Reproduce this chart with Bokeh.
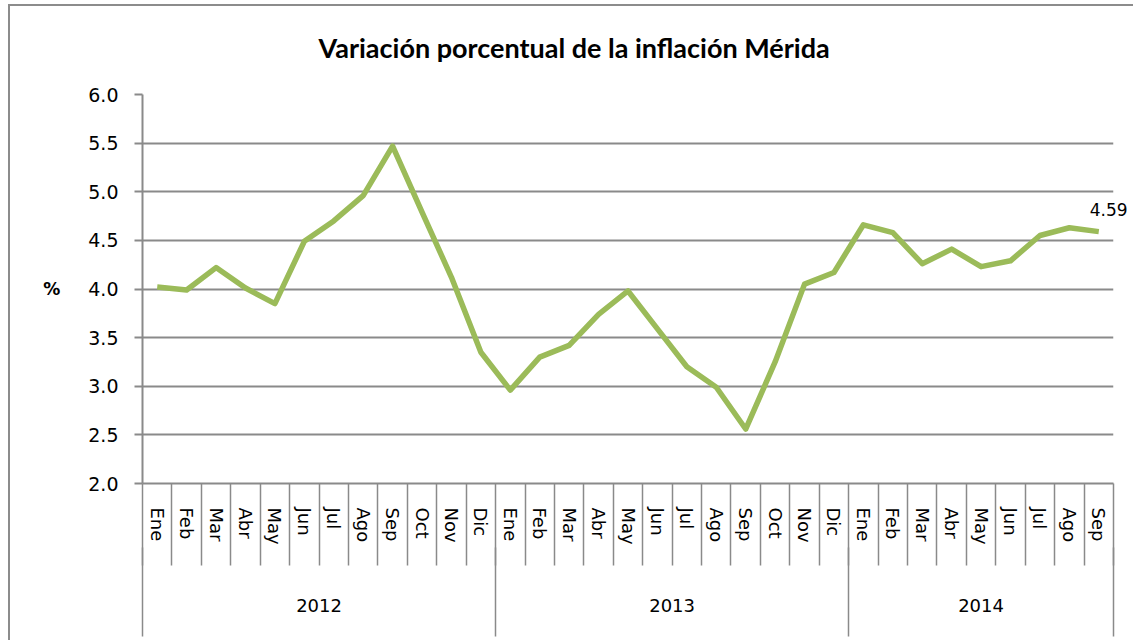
from bokeh.plotting import figure
from bokeh.models import LinearAxis, FixedTicker, Range1d, Label
from bokeh.embed import file_html
from bokeh.resources import INLINE

title = "Variación porcentual de la inflación Mérida"
years = ["2012", "2013", "2014"]
months_per_year = [
    ["Ene", "Feb", "Mar", "Abr", "May", "Jun", "Jul", "Ago", "Sep", "Oct", "Nov", "Dic"],
    ["Ene", "Feb", "Mar", "Abr", "May", "Jun", "Jul", "Ago", "Sep", "Oct", "Nov", "Dic"],
    ["Ene", "Feb", "Mar", "Abr", "May", "Jun", "Jul", "Ago", "Sep"],
]
values = [4.02, 3.99, 4.22, 4.01, 3.85, 4.49, 4.70, 4.96, 5.47, 4.79, 4.12, 3.35,
          2.96, 3.30, 3.42, 3.74, 3.98, 3.59, 3.20, 2.99, 2.56, 3.25, 4.05, 4.17,
          4.66, 4.58, 4.26, 4.41, 4.23, 4.29, 4.55, 4.63, 4.59]
y_ticks = [2.0, 2.5, 3.0, 3.5, 4.0, 4.5, 5.0, 5.5, 6.0]

TFONT = "Lato"
FONT = "DejaVu Sans"
GRAY = "#8a8a8a"
GREEN = "#9BBB59"

month_labels = [m for ms in months_per_year for m in ms]
n = len(month_labels)
xs = [i + 0.5 for i in range(n)]

bounds = [0]
for ms in months_per_year:
    bounds.append(bounds[-1] + len(ms))
year_centers = [(bounds[i] + bounds[i + 1]) / 2 for i in range(len(years))]

p = figure(width=1125, height=636, output_backend="svg", toolbar_location=None,
           x_range=Range1d(0, n), y_range=Range1d(2.0, 6.0),
           min_border_left=132, min_border_right=22, min_border_top=88,
           min_border_bottom=159, x_axis_type=None)
p.styles = {"margin-left": "8px", "margin-top": "4px",
            "border-left": "2px solid #8c8c8c", "border-top": "2px solid #8c8c8c"}
p.outline_line_color = None
p.background_fill_color = "white"
p.border_fill_color = "white"

p.title.text = title
p.title.text_font = TFONT
p.title.text_font_size = "27px"
p.title.text_font_style = "bold"
p.title.text_color = "black"
p.title.align = "left"
p.title.offset = 176
p.title.standoff = 36

# y axis
ya = p.yaxis[0]
ya.ticker = FixedTicker(ticks=y_ticks)
ya.major_label_overrides = {t: f"{t:.1f}" for t in y_ticks}
ya.major_label_text_font = FONT
ya.major_label_text_font_size = "19px"
ya.major_label_text_color = "black"
ya.major_label_standoff = 16
ya.major_tick_out = 8
ya.major_tick_in = 0
ya.minor_tick_line_color = None
ya.axis_line_color = GRAY
ya.axis_line_width = 2
ya.major_tick_line_color = GRAY
ya.major_tick_line_width = 2
ya.axis_label = "%"
ya.axis_label_orientation = "horizontal"
ya.axis_label_text_font = FONT
ya.axis_label_text_font_size = "17px"
ya.axis_label_text_font_style = "bold"
ya.axis_label_text_color = "black"
ya.axis_label_standoff = 25

p.ygrid.ticker = FixedTicker(ticks=y_ticks)
p.ygrid.grid_line_color = GRAY
p.ygrid.grid_line_width = 2
p.xgrid.grid_line_color = None

# month axis
ma = LinearAxis(ticker=FixedTicker(ticks=xs, minor_ticks=list(range(n + 1))))
ma.major_label_overrides = {x: lab for x, lab in zip(xs, month_labels)}
ma.major_label_orientation = "vertical"
ma.major_label_text_font = FONT
ma.major_label_text_font_size = "18px"
ma.major_label_text_color = "black"
ma.major_label_standoff = -58
ma.major_tick_out = 0
ma.major_tick_in = 0
ma.minor_tick_out = 82
ma.minor_tick_in = 0
ma.minor_tick_line_color = GRAY
ma.minor_tick_line_width = 1.5
ma.axis_line_color = GRAY
ma.axis_line_width = 2
p.add_layout(ma, "below")

# year axis
ya2 = LinearAxis(ticker=FixedTicker(ticks=year_centers, minor_ticks=bounds))
ya2.major_label_overrides = {c: y for c, y in zip(year_centers, years)}
ya2.major_label_text_font = FONT
ya2.major_label_text_font_size = "18px"
ya2.major_label_text_color = "black"
ya2.major_label_standoff = -38
ya2.major_tick_out = 0
ya2.major_tick_in = 0
ya2.minor_tick_out = 89
ya2.minor_tick_in = 0
ya2.minor_tick_line_color = GRAY
ya2.minor_tick_line_width = 1.5
ya2.axis_line_color = None
p.add_layout(ya2, "below")

p.line(xs, values, line_color=GREEN, line_width=5.5, line_join="round")

last = Label(x=xs[-1], y=values[-1], text=f"{values[-1]:.2f}", x_offset=-9, y_offset=16,
             text_font=FONT, text_font_size="17px", text_color="black",
             text_baseline="bottom", text_align="left")
p.add_layout(last, "above")

open("out.html", "w").write(file_html(p, INLINE))
